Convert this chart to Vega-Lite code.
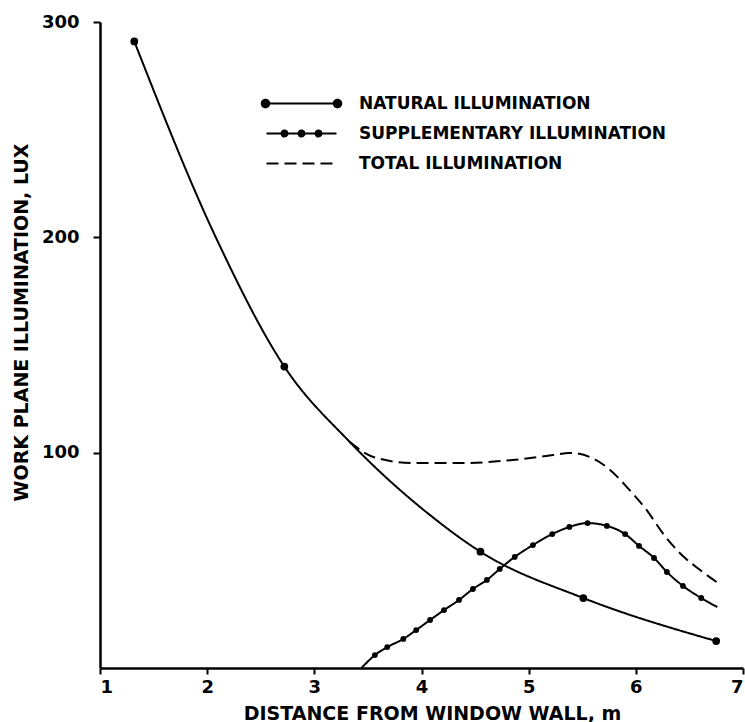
{
  "$schema": "https://vega.github.io/schema/vega-lite/v6.json",
  "width": 643,
  "height": 646,
  "autosize": {"type": "none"},
  "padding": {"left": 100, "top": 22, "right": 2, "bottom": 54},
  "background": "white",
  "config": {
    "view": {"stroke": null},
    "axis": {
      "grid": false,
      "domainColor": "black",
      "tickColor": "black",
      "labelColor": "black",
      "titleColor": "black",
      "labelFont": "DejaVu Sans",
      "titleFont": "DejaVu Sans",
      "labelFontWeight": "bold",
      "titleFontWeight": "bold"
    }
  },
  "data": {
    "values": [
      {"series": "NATURAL ILLUMINATION", "distance": 1.32, "lux": 291, "measured": true},
      {"series": "NATURAL ILLUMINATION", "distance": 2.09, "lux": 199, "measured": false},
      {"series": "NATURAL ILLUMINATION", "distance": 2.72, "lux": 140, "measured": true},
      {"series": "NATURAL ILLUMINATION", "distance": 3.33, "lux": 105, "measured": false},
      {"series": "NATURAL ILLUMINATION", "distance": 4.08, "lux": 71, "measured": false},
      {"series": "NATURAL ILLUMINATION", "distance": 4.55, "lux": 54, "measured": true},
      {"series": "NATURAL ILLUMINATION", "distance": 5.51, "lux": 32.5, "measured": true},
      {"series": "NATURAL ILLUMINATION", "distance": 6.75, "lux": 12.5, "measured": true},
      {"series": "SUPPLEMENTARY ILLUMINATION", "distance": 3.44, "lux": 0, "measured": false},
      {"series": "SUPPLEMENTARY ILLUMINATION", "distance": 3.565, "lux": 6, "measured": true},
      {"series": "SUPPLEMENTARY ILLUMINATION", "distance": 3.68, "lux": 9.7, "measured": true},
      {"series": "SUPPLEMENTARY ILLUMINATION", "distance": 3.83, "lux": 13.5, "measured": true},
      {"series": "SUPPLEMENTARY ILLUMINATION", "distance": 3.95, "lux": 17.6, "measured": true},
      {"series": "SUPPLEMENTARY ILLUMINATION", "distance": 4.08, "lux": 22.3, "measured": true},
      {"series": "SUPPLEMENTARY ILLUMINATION", "distance": 4.21, "lux": 26.9, "measured": true},
      {"series": "SUPPLEMENTARY ILLUMINATION", "distance": 4.35, "lux": 31.6, "measured": true},
      {"series": "SUPPLEMENTARY ILLUMINATION", "distance": 4.48, "lux": 36.7, "measured": true},
      {"series": "SUPPLEMENTARY ILLUMINATION", "distance": 4.61, "lux": 40.9, "measured": true},
      {"series": "SUPPLEMENTARY ILLUMINATION", "distance": 4.73, "lux": 46, "measured": true},
      {"series": "SUPPLEMENTARY ILLUMINATION", "distance": 4.87, "lux": 51.6, "measured": true},
      {"series": "SUPPLEMENTARY ILLUMINATION", "distance": 5.04, "lux": 57.1, "measured": true},
      {"series": "SUPPLEMENTARY ILLUMINATION", "distance": 5.22, "lux": 62.2, "measured": true},
      {"series": "SUPPLEMENTARY ILLUMINATION", "distance": 5.38, "lux": 65.5, "measured": true},
      {"series": "SUPPLEMENTARY ILLUMINATION", "distance": 5.55, "lux": 67.3, "measured": true},
      {"series": "SUPPLEMENTARY ILLUMINATION", "distance": 5.73, "lux": 66, "measured": true},
      {"series": "SUPPLEMENTARY ILLUMINATION", "distance": 5.90, "lux": 62.2, "measured": true},
      {"series": "SUPPLEMENTARY ILLUMINATION", "distance": 6.03, "lux": 56.7, "measured": true},
      {"series": "SUPPLEMENTARY ILLUMINATION", "distance": 6.17, "lux": 51.1, "measured": true},
      {"series": "SUPPLEMENTARY ILLUMINATION", "distance": 6.29, "lux": 44.6, "measured": true},
      {"series": "SUPPLEMENTARY ILLUMINATION", "distance": 6.44, "lux": 38.1, "measured": true},
      {"series": "SUPPLEMENTARY ILLUMINATION", "distance": 6.61, "lux": 32.5, "measured": true},
      {"series": "SUPPLEMENTARY ILLUMINATION", "distance": 6.76, "lux": 28.3, "measured": false},
      {"series": "TOTAL ILLUMINATION", "distance": 3.33, "lux": 105, "measured": false},
      {"series": "TOTAL ILLUMINATION", "distance": 3.55, "lux": 98, "measured": false},
      {"series": "TOTAL ILLUMINATION", "distance": 3.92, "lux": 95.2, "measured": false},
      {"series": "TOTAL ILLUMINATION", "distance": 4.39, "lux": 95.2, "measured": false},
      {"series": "TOTAL ILLUMINATION", "distance": 4.85, "lux": 96.6, "measured": false},
      {"series": "TOTAL ILLUMINATION", "distance": 5.23, "lux": 98.9, "measured": false},
      {"series": "TOTAL ILLUMINATION", "distance": 5.38, "lux": 99.9, "measured": false},
      {"series": "TOTAL ILLUMINATION", "distance": 5.57, "lux": 98, "measured": false},
      {"series": "TOTAL ILLUMINATION", "distance": 5.76, "lux": 92, "measured": false},
      {"series": "TOTAL ILLUMINATION", "distance": 5.94, "lux": 82.7, "measured": false},
      {"series": "TOTAL ILLUMINATION", "distance": 6.10, "lux": 73.4, "measured": false},
      {"series": "TOTAL ILLUMINATION", "distance": 6.25, "lux": 62.7, "measured": false},
      {"series": "TOTAL ILLUMINATION", "distance": 6.41, "lux": 53.4, "measured": false},
      {"series": "TOTAL ILLUMINATION", "distance": 6.60, "lux": 45.5, "measured": false},
      {"series": "TOTAL ILLUMINATION", "distance": 6.78, "lux": 39, "measured": false}
    ]
  },
  "encoding": {
    "x": {
      "field": "distance",
      "type": "quantitative",
      "scale": {"domain": [1, 7], "nice": false, "zero": false},
      "axis": {
        "values": [1, 2, 3, 4, 5, 6, 7],
        "format": "d",
        "title": "DISTANCE FROM WINDOW WALL, m",
        "labelFontSize": 18,
        "tickSize": 6,
        "tickWidth": 2,
        "domainWidth": 2.5,
        "labelPadding": 4,
        "titleFontSize": 19,
        "titleX": 332,
        "titleY": 45,
        "titleAlign": "center",
        "titleBaseline": "middle"
      }
    },
    "y": {
      "field": "lux",
      "type": "quantitative",
      "scale": {"domain": [0, 300], "nice": false},
      "axis": {
        "values": [100, 200, 300],
        "title": "WORK PLANE ILLUMINATION, LUX",
        "labelFontSize": 18,
        "tickSize": 7,
        "tickWidth": 2,
        "domainWidth": 2.5,
        "labelPadding": 14,
        "titleFontSize": 19,
        "titleX": -79,
        "titleY": 300,
        "titleAlign": "center",
        "titleBaseline": "middle"
      }
    }
  },
  "layer": [
    {
      "mark": {"type": "line", "interpolate": "monotone", "strokeWidth": 2, "color": "black"},
      "encoding": {
        "color": {
          "field": "series",
          "type": "nominal",
          "scale": {
            "domain": ["NATURAL ILLUMINATION", "SUPPLEMENTARY ILLUMINATION", "TOTAL ILLUMINATION"],
            "range": ["black", "black", "black"]
          },
          "legend": {
            "title": null,
            "orient": "none",
            "legendX": 193,
            "legendY": 73,
            "symbolSize": 100,
            "symbolStrokeWidth": 2,
            "labelFont": "DejaVu Sans",
            "labelFontSize": 17,
            "labelFontWeight": "bold",
            "labelColor": "black",
            "labelOffset": 49,
            "labelLimit": 600,
            "rowPadding": 12,
            "encode": {
              "symbols": {
                "update": {
                  "shape": {"signal": "datum.value === 'NATURAL ILLUMINATION' ? 'M-7.2,0L7.2,0M-7.95,0A0.75,0.75,0,1,1,-6.45,0A0.75,0.75,0,1,1,-7.95,0ZM6.45,0A0.75,0.75,0,1,1,7.95,0A0.75,0.75,0,1,1,6.45,0Z' : datum.value === 'SUPPLEMENTARY ILLUMINATION' ? 'M-7,0L7,0M-4,0A0.6,0.6,0,1,1,-2.8,0A0.6,0.6,0,1,1,-4,0ZM-0.6,0A0.6,0.6,0,1,1,0.6,0A0.6,0.6,0,1,1,-0.6,0ZM2.8,0A0.6,0.6,0,1,1,4,0A0.6,0.6,0,1,1,2.8,0Z' : 'M-7,0L7,0'"},
                  "strokeDash": {"signal": "datum.value === 'TOTAL ILLUMINATION' ? [12, 7] : [1, 0]"},
                  "fill": {"value": "black"},
                  "stroke": {"value": "black"},
                  "strokeWidth": {"value": 2},
                  "opacity": {"value": 1}
                }
              }
            }
          }
        },
        "strokeDash": {
          "field": "series",
          "type": "nominal",
          "scale": {
            "domain": ["NATURAL ILLUMINATION", "SUPPLEMENTARY ILLUMINATION", "TOTAL ILLUMINATION"],
            "range": [[1, 0], [1, 0], [12, 6]]
          },
          "legend": null
        }
      }
    },
    {
      "transform": [{"filter": "datum.measured && datum.series === 'NATURAL ILLUMINATION'"}],
      "mark": {"type": "point", "filled": true, "opacity": 1, "color": "black", "size": 60}
    },
    {
      "transform": [{"filter": "datum.measured && datum.series === 'SUPPLEMENTARY ILLUMINATION'"}],
      "mark": {"type": "point", "filled": true, "opacity": 1, "color": "black", "size": 34}
    }
  ]
}
